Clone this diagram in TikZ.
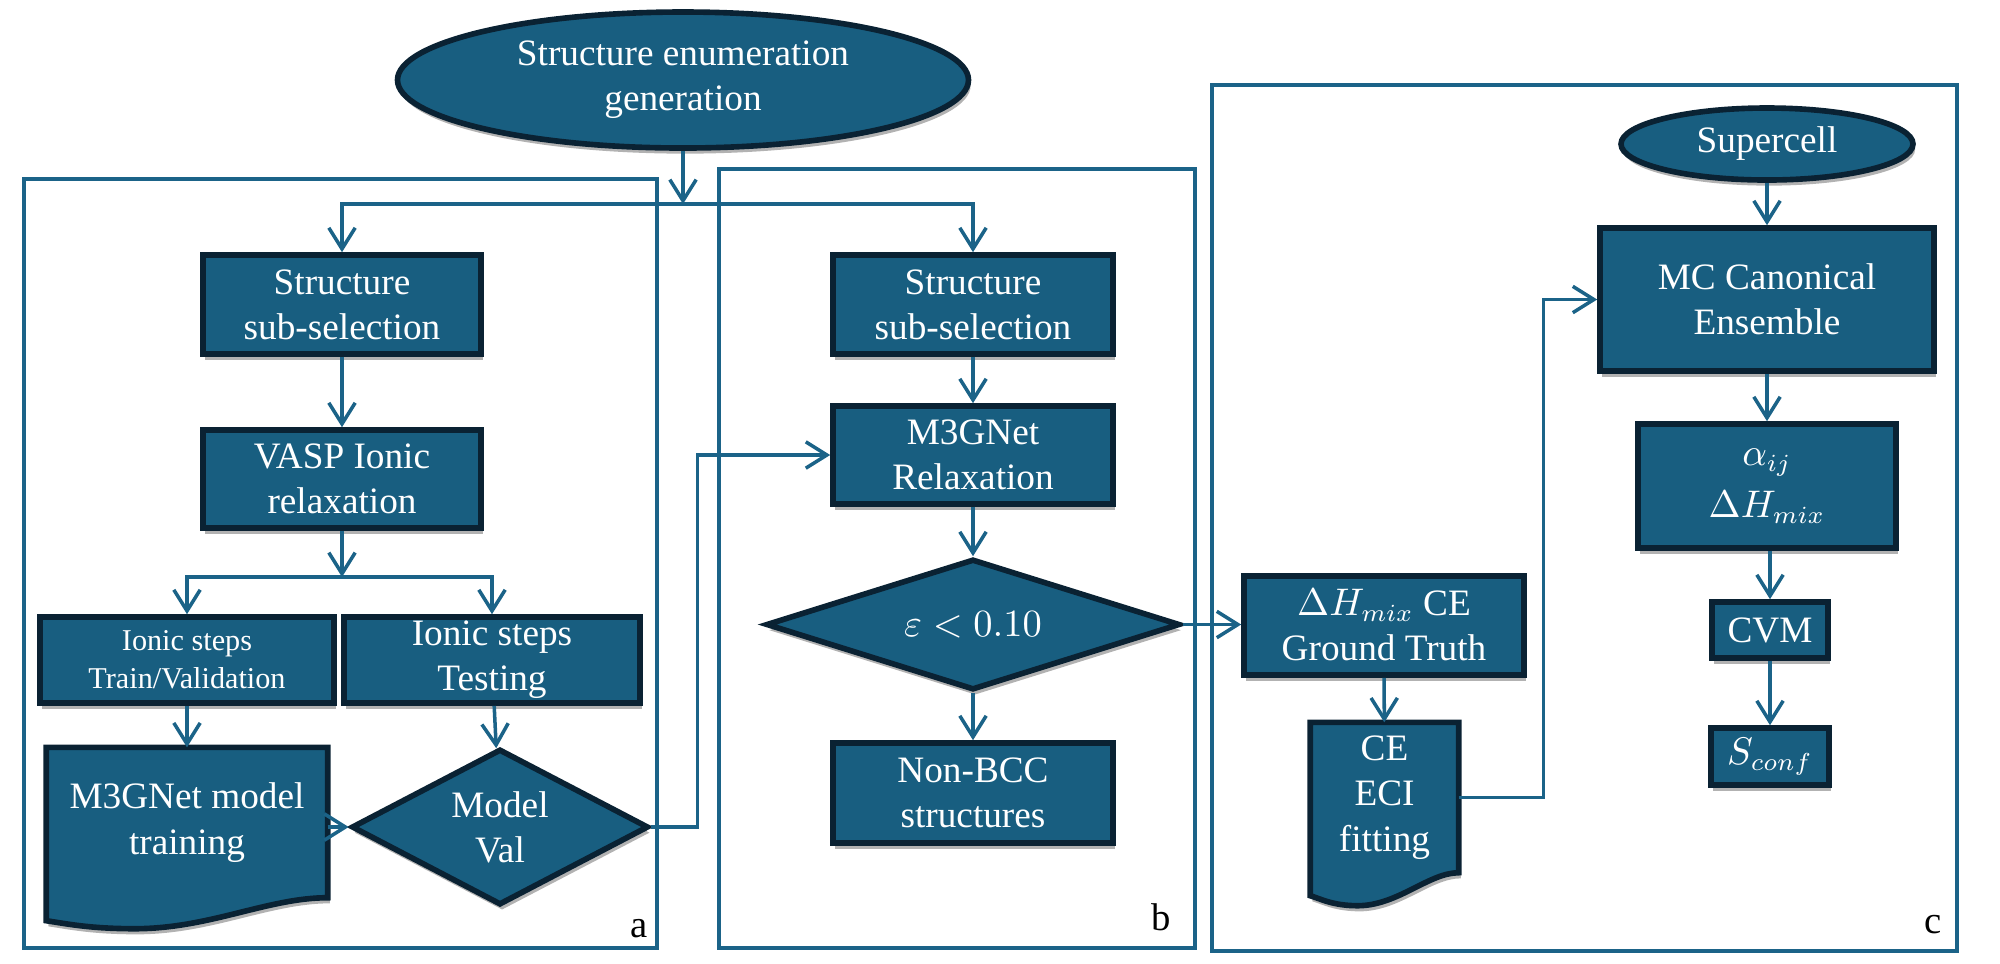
\documentclass[tikz,border=0pt]{standalone}
\usepackage{fontspec}
\setmainfont{Liberation Serif}
\usetikzlibrary{shapes.geometric,arrows.meta,shadows,backgrounds,calc}
\definecolor{boxfill}{HTML}{185E80}
\definecolor{boxline}{HTML}{0A2233}
\definecolor{flow}{HTML}{1B6388}
\tikzset{
  dshadow/.style={drop shadow={shadow xshift=0.6pt,shadow yshift=-1.6pt,opacity=0.3,fill=black}},
  blk/.style={draw=boxline,line width=1.6pt,fill=boxfill,text=white,align=center,inner sep=0pt,font=\fontsize{10.6}{12.8}\selectfont,dshadow},
  box/.style={blk,rectangle},
  oval/.style={blk,ellipse},
  decide/.style={blk,diamond},
  docbox/.style={text=white,align=center,inner sep=0pt,font=\fontsize{10.6}{13}\selectfont},
  docpath/.style={draw=boxline,line width=1.6pt,fill=boxfill,dshadow},
  panel/.style={draw=flow,line width=1.3pt,inner sep=0pt},
  lab/.style={font=\fontsize{11}{13}\selectfont,inner sep=0pt},
  flowline/.style={draw=flow,line width=1pt}
}
\begin{document}
\begin{tikzpicture}[>={Straight Barb[length=6pt,width=7.5pt]}]
\useasboundingbox (0,0) rectangle (20,-9.63);

% panels a, b, c
\node[panel,minimum width=6.33cm,minimum height=7.69cm] (pa) at (3.405,-5.635) {};
\node[panel,minimum width=4.76cm,minimum height=7.79cm] (pb) at (9.57,-5.585) {};
\node[panel,minimum width=7.45cm,minimum height=8.66cm] (pc) at (15.845,-5.18) {};
\node[lab] (la) at (6.39,-9.29) {a};
\node[lab] (lb) at (11.61,-9.17) {b};
\node[lab] (lc) at (19.33,-9.25) {c};

% start
\node[oval,minimum width=5.71cm,minimum height=1.36cm] (enum) at (6.83,-0.80) {Structure enumeration\\generation};

% panel a
\node[box,minimum width=2.78cm,minimum height=0.99cm] (ss1) at (3.42,-3.045) {Structure\\sub-selection};
\node[box,minimum width=2.78cm,minimum height=0.98cm] (vasp) at (3.42,-4.79) {VASP Ionic\\relaxation};
\node[box,minimum width=2.94cm,minimum height=0.86cm,font=\fontsize{8.6}{10.8}\selectfont] (trn) at (1.87,-6.60) {Ionic steps\\Train/Validation};
\node[box,minimum width=2.96cm,minimum height=0.86cm] (tst) at (4.92,-6.60) {Ionic steps\\Testing};
\node[docbox,minimum width=2.8cm,minimum height=1.49cm] (fit) at (1.87,-8.225) {M3GNet model\\training};
\node[decide,minimum width=2.97cm,minimum height=1.56cm,shape aspect=1.9] (val) at (5.0,-8.27) {Model\\Val};

% panel b
\node[box,minimum width=2.8cm,minimum height=0.99cm] (ss2) at (9.73,-3.045) {Structure\\sub-selection};
\node[box,minimum width=2.8cm,minimum height=0.98cm] (relax) at (9.73,-4.55) {M3GNet\\Relaxation};
\node[decide,minimum width=4.14cm,minimum height=1.31cm,shape aspect=3.2] (eps) at (9.73,-6.245) {$\varepsilon<0.10$};
\node[box,minimum width=2.8cm,minimum height=1.0cm] (nbcc) at (9.73,-7.93) {Non-BCC\\structures};

% panel c
\node[box,minimum width=2.8cm,minimum height=0.99cm] (gt) at (13.84,-6.255) {$\Delta H_{mix}$ CE\\Ground Truth};
\node[docbox,minimum width=1.47cm,minimum height=1.49cm] (eci) at (13.845,-7.975) {CE\\ECI\\fitting};
\node[oval,minimum width=2.92cm,minimum height=0.72cm] (cell) at (17.67,-1.44) {Supercell};
\node[box,minimum width=3.34cm,minimum height=1.43cm] (mc) at (17.67,-2.995) {MC Canonical\\Ensemble};
\node[box,minimum width=2.58cm,minimum height=1.24cm] (sro) at (17.67,-4.86) {$\alpha_{ij}$\\[2pt]$\Delta H_{mix}$};
\node[box,minimum width=1.16cm,minimum height=0.56cm] (cvm) at (17.70,-6.30) {CVM};
\node[box,minimum width=1.18cm,minimum height=0.57cm] (sconf) at (17.70,-7.565) {$S_{conf}$};

% document shapes
\begin{scope}[on background layer]
\path[docpath] (fit.north west) -- (fit.north east) -- (fit.south east)
  .. controls +(-0.6,0) and +(0.75,0) .. ++(-1.93,-0.31)
  .. controls +(-0.45,0) and +(0.2,-0.03) .. ($(fit.south west)+(0,-0.23)$) -- cycle;
\path[docpath] (eci.north west) -- (eci.north east) -- (eci.south east)
  .. controls +(-0.3,0) and +(0.4,0) .. ++(-1.01,-0.33)
  .. controls +(-0.25,0) and +(0.1,-0.03) .. ($(eci.south west)+(0,-0.23)$) -- cycle;
\end{scope}

% connectors
\coordinate (sp1) at (6.83,-2.04);
\coordinate (sp2) at (3.42,-5.77);
\draw[flowline,->] (enum) -- (sp1);
\draw[flowline,->] (sp1) -| (ss1.north);
\draw[flowline,->] (sp1) -| (ss2.north);
\draw[flowline,->] (ss1) -- (vasp);
\draw[flowline,->] (vasp) -- (sp2);
\draw[flowline,->] (sp2) -| (trn.north);
\draw[flowline,->] (sp2) -| (tst.north);
\draw[flowline,->] (trn) -- (fit);
\draw[flowline,->] (tst) -- (val);
\draw[flowline,->] (fit.east |- val.west) -- (val.west);
\draw[flowline,->] (val.east) -- ++(0.46,0) |- (relax.west);
\draw[flowline,->] (ss2) -- (relax);
\draw[flowline,->] (relax) -- (eps);
\draw[flowline,->] (eps) -- (nbcc);
\draw[flowline,->] (eps.east) -- (eps.east -| gt.west);
\draw[flowline,->] (gt) -- (eci);
\draw[flowline,->] (eci.east) -- ++(0.85,0) |- (mc.west);
\draw[flowline,->] (cell) -- (mc);
\draw[flowline,->] (mc) -- (sro);
\draw[flowline,->] (sro.south -| cvm.north) -- (cvm);
\draw[flowline,->] (cvm) -- (sconf);
\end{tikzpicture}
\end{document}
